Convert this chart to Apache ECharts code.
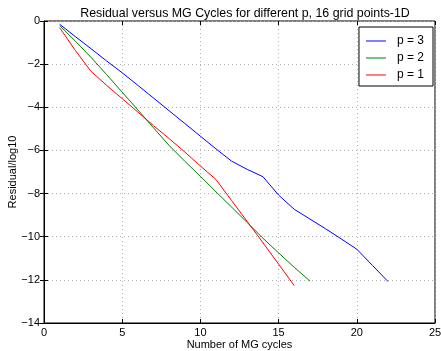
<!DOCTYPE html>
<html>
<head>
<meta charset="utf-8">
<script src="https://cdn.jsdelivr.net/npm/echarts@6/dist/echarts.min.js"></script>
<style>
  html, body { margin: 0; padding: 0; background: #fff; }
  #chart { width: 441px; height: 351px; }
</style>
</head>
<body>
<div id="chart"></div>
<script>
// values (log10 of residual per MG cycle)
const cyclesP3 = [1, 2, 3, 4, 5, 6, 7, 8, 9, 10, 11, 12, 13, 14, 15, 16, 17, 18, 19, 20, 21, 22];
const residP3 = [-0.15, -0.72, -1.28, -1.85, -2.4, -2.98, -3.57, -4.16, -4.75, -5.34, -5.93, -6.5,
  -6.88, -7.22, -8.07, -8.73, -9.18, -9.63, -10.1, -10.58, -11.33, -12.08];
const cyclesP2 = [1, 2, 3, 4, 5, 6, 7, 8, 9, 10, 11, 12, 13, 14, 15, 16, 17];
const residP2 = [-0.21, -0.93, -1.68, -2.48, -3.3, -4.12, -4.95, -5.77, -6.5, -7.2, -7.92, -8.63,
  -9.35, -10.07, -10.75, -11.42, -12.05];
const cyclesP1 = [1, 2, 3, 4, 5, 6, 7, 8, 9, 10, 11, 12, 13, 14, 15, 16];
const residP1 = [-0.31, -1.36, -2.33, -2.98, -3.6, -4.22, -4.85, -5.45, -6.07, -6.72, -7.35, -8.33,
  -9.3, -10.28, -11.27, -12.27];

const seriesNames = ['p = 3', 'p = 2', 'p = 1'];
const seriesColors = ['#0000ff', '#008000', '#ff0000'];

const pairs = (xs, ys) => xs.map((x, i) => [x, ys[i]]);
const allData = [pairs(cyclesP3, residP3), pairs(cyclesP2, residP2), pairs(cyclesP1, residP1)];

const font = 'Liberation Sans, Arial, Helvetica, sans-serif';
const minus = (v) => String(v).replace('-', '\u2212');
const gridLine = { show: true, lineStyle: { color: '#b0b0b0', type: [1, 3], width: 1 } };

const chart = echarts.init(document.getElementById('chart'), null, { renderer: 'canvas' });
chart.setOption({
  animation: false,
  backgroundColor: '#fff',
  title: {
    text: 'Residual versus MG Cycles for different p, 16 grid points-1D',
    left: 240,
    textAlign: 'center',
    top: 3,
    textStyle: { fontFamily: font, fontSize: 12.4, fontWeight: 'normal', color: '#000' }
  },
  legend: {
    orient: 'vertical',
    right: 8,
    top: 27,
    data: seriesNames,
    icon: 'rect',
    itemWidth: 20,
    itemHeight: 1,
    itemGap: 5,
    padding: [8, 9, 5, 7],
    borderColor: '#000',
    borderWidth: 1,
    backgroundColor: '#fff',
    textStyle: { fontFamily: font, fontSize: 12, color: '#000', padding: [0, 0, 0, 6] }
  },
  grid: {
    left: 44, right: 6, top: 21, bottom: 28, show: true, borderColor: '#000', borderWidth: 1,
    outerBoundsMode: 'none'
  },
  xAxis: [{
    type: 'value', min: 0, max: 25, interval: 5,
    name: 'Number of MG cycles', nameLocation: 'middle', nameGap: 16, nameMoveOverlap: false,
    nameTextStyle: { fontFamily: font, fontSize: 11, color: '#000' },
    axisLine: { show: true, onZero: false, lineStyle: { color: '#000' } },
    axisTick: { show: true, inside: true, length: 4, lineStyle: { color: '#000' } },
    axisLabel: { fontFamily: font, fontSize: 11, color: '#000', margin: 4 },
    splitLine: gridLine
  }, {
    type: 'value', min: 0, max: 25, interval: 5, position: 'top',
    axisLine: { show: false },
    axisTick: { show: true, inside: true, length: 4, lineStyle: { color: '#000' } },
    axisLabel: { show: false }, splitLine: { show: false }
  }],
  yAxis: [{
    type: 'value', min: -14, max: 0, interval: 2,
    name: 'Residual/log10', nameLocation: 'middle', nameGap: 26, nameMoveOverlap: false,
    nameTextStyle: { fontFamily: font, fontSize: 11, color: '#000' },
    axisLine: { show: true, onZero: false, lineStyle: { color: '#000' } },
    axisTick: { show: true, inside: true, length: 4, lineStyle: { color: '#000' } },
    axisLabel: { fontFamily: font, fontSize: 11, color: '#000', margin: 4, formatter: minus },
    splitLine: gridLine
  }, {
    type: 'value', min: -14, max: 0, interval: 2, position: 'right',
    axisLine: { show: false },
    axisTick: { show: true, inside: true, length: 4, lineStyle: { color: '#000' } },
    axisLabel: { show: false }, splitLine: { show: false }
  }],
  series: seriesNames.map((name, i) => ({
    name: name,
    type: 'line',
    data: allData[i],
    symbol: 'none',
    color: seriesColors[i],
    lineStyle: { width: 1, color: seriesColors[i] }
  }))
});
</script>
</body>
</html>
